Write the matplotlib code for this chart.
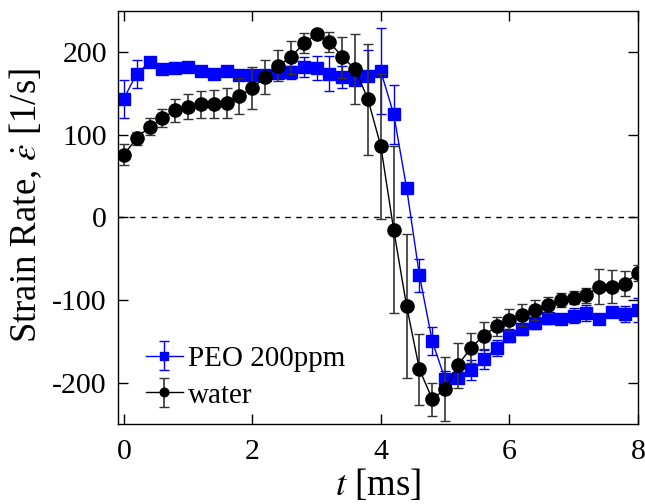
import matplotlib
matplotlib.use("Agg")
import matplotlib.pyplot as plt

plt.rcParams['font.family'] = ['Liberation Serif', 'DejaVu Serif']
plt.rcParams['mathtext.fontset'] = 'stix'
plt.rcParams['axes.unicode_minus'] = False

t = [0.0, 0.2, 0.4, 0.6, 0.8, 1.0, 1.2, 1.4, 1.6, 1.8, 2.0, 2.2, 2.4, 2.6, 2.8,
     3.0, 3.2, 3.4, 3.6, 3.8, 4.0, 4.2, 4.4, 4.6, 4.8, 5.0, 5.2, 5.4, 5.6, 5.8,
     6.0, 6.2, 6.4, 6.6, 6.8, 7.0, 7.2, 7.4, 7.6, 7.8, 8.0]

water = [76, 96, 110, 120, 130, 134, 137, 138, 139, 147, 157, 170, 184, 194, 211,
         222, 213, 194, 180, 143, 86, -15, -107, -184, -220, -208, -179, -158, -143, -132,
         -124, -118, -112, -106, -100, -97, -94, -84, -84, -80, -67]
water_err = [13, 8, 10, 11, 14, 15, 16, 17, 18, 22, 25, 21, 19, 20, 12,
             5, 12, 25, 42, 67, 88, 101, 87, 43, 20, 39, 27, 18, 16, 12,
             13, 13, 12, 10, 9, 8, 9, 21, 20, 15, 10]

peo = [144, 174, 188, 180, 181, 182, 178, 174, 177, 173, 172, 172, 175, 176, 182,
       181, 174, 170, 166, 171, 177, 125, 36, -70, -150, -196, -194, -185, -172, -158,
       -143, -135, -128, -122, -123, -119, -116, -123, -114, -117, -112]
peo_err = [23, 17, 4, 4, 4, 4, 4, 4, 4, 4, 4, 4, 4, 8, 12,
           14, 21, 13, 6, 32, 52, 36, 6, 20, 17, 10, 7, 12, 12, 10,
           8, 7, 7, 7, 6, 9, 10, 6, 6, 10, 15]

fig = plt.figure(figsize=(6.45, 5.04), dpi=100)
ax = fig.add_axes([0.183, 0.159, 0.806, 0.819])

ax.axhline(0, color='black', linestyle=(0, (4, 4)), linewidth=1.0, zorder=1)

ax.errorbar(t, peo, yerr=peo_err, color='#0000ff', marker='s', markersize=8,
            linewidth=1.0, elinewidth=1.0, capsize=3.5, capthick=1.0,
            label='PEO 200ppm', zorder=2)
ax.errorbar(t, water, yerr=water_err, color='black', ecolor='#333333', marker='o',
            markersize=9.5, linewidth=1.0, elinewidth=1.2, capsize=3.5, capthick=1.0,
            label='water', zorder=3)

ax.set_xlim(-0.09, 8.0)
ax.set_ylim(-250, 250)
ax.set_xticks([0, 2, 4, 6, 8])
ax.set_yticks([-200, -100, 0, 100, 200])
ax.tick_params(direction='in', top=True, right=True, length=7, width=1.0,
               labelsize=21.5, pad=8)
ax.tick_params(axis='x', pad=11)
for s in ax.spines.values():
    s.set_linewidth(1.0)

ax.set_xlabel(r'$t$ [ms]', fontsize=26.5, labelpad=1)
ax.set_ylabel(r'Strain Rate, $\dot{\varepsilon}$ [1/s]', fontsize=26.5)
ax.yaxis.set_label_coords(-0.142, 0.53)

leg = ax.legend(loc='lower left', frameon=False, fontsize=21, markerscale=0.65,
                handlelength=1.27, handletextpad=0.17, labelspacing=0.35,
                borderpad=0.3, borderaxespad=0.65, bbox_to_anchor=(0.0, -0.03))

fig.savefig('out.png', dpi=100)
